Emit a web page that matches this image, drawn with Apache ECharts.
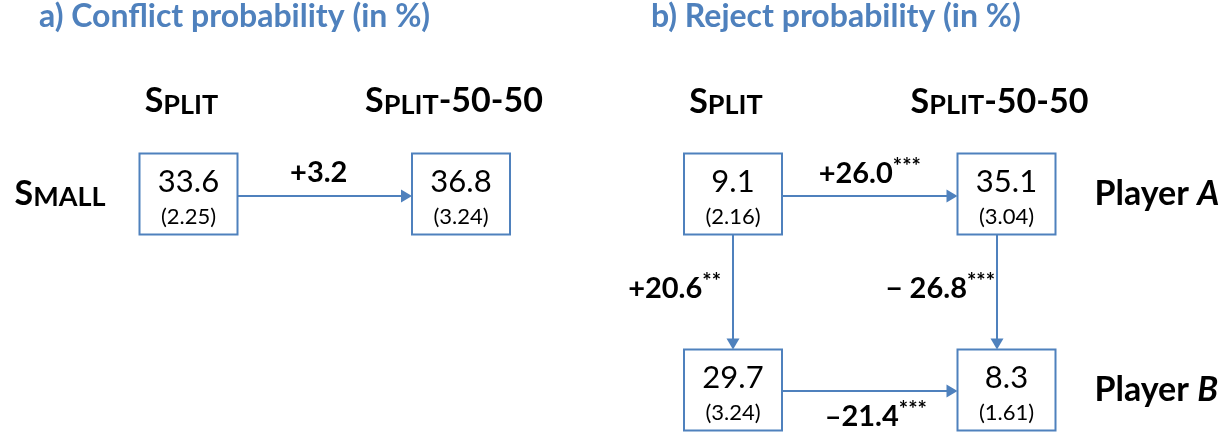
<!DOCTYPE html>
<html><head><meta charset="utf-8">
<script src="https://cdn.jsdelivr.net/npm/echarts@6/dist/echarts.min.js"></script>
<style>html,body{margin:0;padding:0;background:#fff}#c{width:1230px;height:434px}</style>
</head><body><div id="c"></div>
<script>
// ---------------- data ----------------
const titles = ['a) Conflict probability (in %)', 'b) Reject probability (in %)'];
const treatments = ['Split', 'Split-50-50'];
const conflictRows = ['Small'];
const rejectRows = ['Player A', 'Player B'];

const conflictProb = [33.6, 36.8];
const conflictSE = [2.25, 3.24];
const rejectPlayerA = [9.1, 35.1];
const rejectPlayerASE = [2.16, 3.04];
const rejectPlayerB = [29.7, 8.3];
const rejectPlayerBSE = [3.24, 1.61];

// edges: [fromTreatment, fromRow, toTreatment, toRow]
const conflictEdges = [[0, 0, 1, 0]];
const conflictDiffLabels = ['+3.2'];
const conflictDiffStars = [''];
const rejectEdges = [[0, 0, 1, 0], [0, 0, 0, 1], [1, 0, 1, 1], [0, 1, 1, 1]];
const rejectDiffLabels = ['+26.0', '+20.6', '\u2212 26.8', '\u201321.4'];
const rejectDiffStars = ['***', '**', '***', '***'];

// ---------------- styling / layout ----------------
const FONT = 'Lato, "Open Sans", sans-serif';
const BLUE = '#4F81BD';
const HW = 49, HH = 40.5;
const conflictEdgeLayout = [{ ax: 0, ay: 2, lx: -6, ly: -25, align: 'center' }];
const rejectEdgeLayout = [
  { ax: 0, ay: 2, lx: 0, ly: -24, align: 'center' },
  { ax: 0, ay: 0, lx: -12, ly: -5, align: 'right' },
  { ax: -9.5, ay: 0, lx: -2, ly: -5, align: 'right' },
  { ax: 0, ay: 1, lx: 6, ly: 24, align: 'center' }
];

function smallCaps(s) {
  let out = '';
  const re = /([a-z]+)|([^a-z]+)/g; let m;
  while ((m = re.exec(s))) {
    if (m[1]) out += '{sc|' + m[1].toUpperCase() + '}';
    else out += '{cap|' + m[2] + '}';
  }
  return out;
}
const capsRich = {
  cap: { fontSize: 34, fontWeight: 'bold', fontFamily: FONT, color: '#000', lineHeight: 34, verticalAlign: 'bottom' },
  sc: { fontSize: 27, fontWeight: 'bold', fontFamily: FONT, color: '#000', lineHeight: 27, verticalAlign: 'bottom' }
};

function boxRender(params, api) {
  const c = api.coord([api.value(0), api.value(1)]);
  return {
    type: 'group',
    children: [
      { type: 'rect', shape: { x: c[0] - HW, y: c[1] - HH, width: 2 * HW, height: 2 * HH },
        style: { fill: '#fff', stroke: BLUE, lineWidth: 2 } },
      { type: 'text', style: { text: api.value(2).toFixed(1), x: c[0], y: c[1] - 12, align: 'center', verticalAlign: 'middle',
        fontSize: 31, fontFamily: FONT, fill: '#000' } },
      { type: 'text', style: { text: '(' + api.value(3).toFixed(2) + ')', x: c[0], y: c[1] + 23, align: 'center', verticalAlign: 'middle',
        fontSize: 22, fontFamily: FONT, fill: '#000' } }
    ]
  };
}

function makeArrowRender(labels, stars, layout) {
  return function (params, api) {
    const i = api.value(4);
    const L = layout[i];
    const p0 = api.coord([api.value(0), api.value(1)]);
    const p1 = api.coord([api.value(2), api.value(3)]);
    let shapePts, head, mx, my;
    const hl = 11, hw = 6.5;
    if (Math.abs(p0[1] - p1[1]) < 1) {
      const y = p0[1] + L.ay, x0 = p0[0] + HW, x1 = p1[0] - HW;
      shapePts = { x1: x0, y1: y, x2: x1 - hl + 1, y2: y };
      head = [[x1, y], [x1 - hl, y - hw], [x1 - hl, y + hw]];
      mx = (x0 + x1) / 2; my = y;
    } else {
      const x = p0[0] + L.ax, y0 = p0[1] + HH, y1 = p1[1] - HH;
      shapePts = { x1: x, y1: y0, x2: x, y2: y1 - hl + 1 };
      head = [[x, y1], [x - hw, y1 - hl], [x + hw, y1 - hl]];
      mx = x; my = (y0 + y1) / 2;
    }
    let txt = '{v|' + labels[i] + '}';
    if (stars[i]) txt += '{s|' + stars[i] + '}';
    return {
      type: 'group',
      children: [
        { type: 'line', shape: shapePts, style: { stroke: BLUE, lineWidth: 2 } },
        { type: 'polygon', shape: { points: head }, style: { fill: BLUE } },
        { type: 'text', style: {
          text: txt, x: mx + L.lx, y: my + L.ly, align: L.align, verticalAlign: 'middle',
          rich: {
            v: { fontSize: 29, fontWeight: 'bold', fontFamily: FONT, fill: '#000', lineHeight: 32, verticalAlign: 'bottom' },
            s: { fontSize: 22, fontWeight: 'bold', fontFamily: FONT, fill: '#000', lineHeight: 18, verticalAlign: 'top' }
          } } }
      ]
    };
  };
}

const chart = echarts.init(document.getElementById('c'), null, { renderer: 'canvas' });

const xAxisBase = {
  type: 'category', data: treatments, boundaryGap: false, position: 'top',
  axisLine: { show: false }, axisTick: { show: false }, splitLine: { show: false },
  axisLabel: { formatter: smallCaps, rich: capsRich, padding: [0, 14, 0, 0] }
};

chart.setOption({
  backgroundColor: '#fff',
  animation: false,
  title: [
    { text: titles[0], left: 39, top: 1, padding: 0,
      textStyle: { color: BLUE, fontSize: 32, fontWeight: 'bold', fontFamily: FONT } },
    { text: titles[1], left: 651, top: 1, padding: 0,
      textStyle: { color: BLUE, fontSize: 32, fontWeight: 'bold', fontFamily: FONT } }
  ],
  grid: [
    { left: 188.5, width: 272.5, top: 153.5, height: 81 },
    { left: 733, width: 273.5, top: 194, height: 196 }
  ],
  xAxis: [
    Object.assign({}, xAxisBase, { gridIndex: 0, axisLabel: Object.assign({}, xAxisBase.axisLabel, { margin: 35 }) }),
    Object.assign({}, xAxisBase, { gridIndex: 1, axisLabel: Object.assign({}, xAxisBase.axisLabel, { margin: 75 }) })
  ],
  yAxis: [
    { type: 'category', data: conflictRows, gridIndex: 0, inverse: true, boundaryGap: true,
      axisLine: { show: false }, axisTick: { show: false }, splitLine: { show: false },
      axisLabel: { margin: 83, formatter: smallCaps, rich: capsRich } },
    { type: 'category', data: rejectRows, gridIndex: 1, inverse: true, boundaryGap: false, position: 'right',
      axisLine: { show: false }, axisTick: { show: false }, splitLine: { show: false },
      axisLabel: { margin: 88, align: 'left',
        formatter: function (v) { const k = v.lastIndexOf(' '); return '{b|' + v.slice(0, k + 1) + '}{i|' + v.slice(k + 1) + '}'; },
        rich: {
          b: { fontSize: 34, fontWeight: 'bold', fontFamily: FONT, color: '#000' },
          i: { fontSize: 34, fontWeight: 'bold', fontStyle: 'italic', fontFamily: FONT, color: '#000' }
        } } }
  ],
  series: [
    { type: 'custom', xAxisIndex: 0, yAxisIndex: 0, renderItem: makeArrowRender(conflictDiffLabels, conflictDiffStars, conflictEdgeLayout),
      encode: { x: [0, 2], y: [1, 3] }, z: 1,
      data: conflictEdges.map((e, i) => [e[0], e[1], e[2], e[3], i]) },
    { type: 'custom', xAxisIndex: 0, yAxisIndex: 0, renderItem: boxRender, encode: { x: 0, y: 1 }, z: 2,
      data: conflictProb.map((v, i) => [i, 0, v, conflictSE[i]]) },
    { type: 'custom', xAxisIndex: 1, yAxisIndex: 1, renderItem: makeArrowRender(rejectDiffLabels, rejectDiffStars, rejectEdgeLayout),
      encode: { x: [0, 2], y: [1, 3] }, z: 1,
      data: rejectEdges.map((e, i) => [e[0], e[1], e[2], e[3], i]) },
    { type: 'custom', xAxisIndex: 1, yAxisIndex: 1, renderItem: boxRender, encode: { x: 0, y: 1 }, z: 2,
      data: rejectPlayerA.map((v, i) => [i, 0, v, rejectPlayerASE[i]])
        .concat(rejectPlayerB.map((v, i) => [i, 1, v, rejectPlayerBSE[i]])) }
  ]
});
</script></body></html>
